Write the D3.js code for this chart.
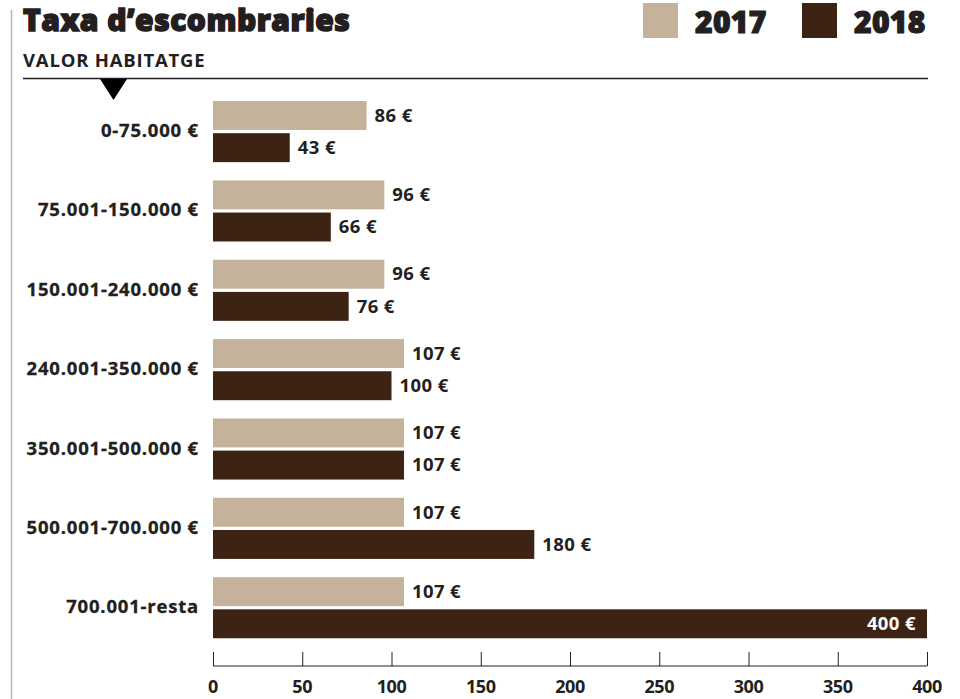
<!DOCTYPE html>
<html lang="ca">
<head>
<meta charset="utf-8">
<title>Taxa d'escombraries</title>
<script src="https://d3js.org/d3.v7.min.js"></script>
<style>
  body { margin: 0; background: #fff; }
  text { fill: #231f20; font-family: 'Open Sans', sans-serif; font-weight: 700; }
</style>
</head>
<body>
<div id="chart"></div>
<script>
// data
var categories = ["0-75.000 €", "75.001-150.000 €", "150.001-240.000 €", "240.001-350.000 €",
                  "350.001-500.000 €", "500.001-700.000 €", "700.001-resta"];
var years = ["2017", "2018"];
var values2017 = [86, 96, 96, 107, 107, 107, 107];
var values2018 = [43, 66, 76, 100, 107, 180, 400];
var xTicks = [0, 50, 100, 150, 200, 250, 300, 350, 400];

var colors = { "2017": "#c4b39a", "2018": "#3d2314" };
var width = 960, height = 699;

var rows = categories.map(function(c, i) {
  return { cat: c, "2017": values2017[i], "2018": values2018[i] };
});

var svg = d3.select("#chart").append("svg")
  .attr("width", width)
  .attr("height", height);

// left grey rule
svg.append("line")
  .attr("x1", 11.5).attr("x2", 11.5)
  .attr("y1", 10).attr("y2", height)
  .attr("stroke", "#b5b5b8").attr("stroke-width", 1.5);

// title
svg.append("text")
  .attr("x", 23).attr("y", 31)
  .style("font-weight", 800)
  .style("font-size", "30px")
  .style("stroke", "#231f20")
  .style("stroke-width", "1.5px")
  .style("letter-spacing", "0.5px")
  .text("Taxa d’escombraries");

svg.append("text")
  .attr("x", 23).attr("y", 67)
  .style("font-size", "18.5px")
  .style("letter-spacing", "0.8px")
  .text("VALOR HABITATGE");

svg.append("line")
  .attr("x1", 23).attr("x2", 928)
  .attr("y1", 78.5).attr("y2", 78.5)
  .attr("stroke", "#231f20").attr("stroke-width", 1.3);

svg.append("path")
  .attr("d", "M100,79 L127,79 L113.5,100 Z")
  .attr("fill", "#000");

// legend
var legend = svg.append("g").selectAll("g")
  .data(years).enter().append("g")
  .attr("transform", function(d, i) { return "translate(" + (643 + i * 159) + ",3)"; });
legend.append("rect")
  .attr("width", 35).attr("height", 35)
  .attr("fill", function(d) { return colors[d]; });
legend.append("text")
  .attr("x", 52).attr("y", 30)
  .style("font-weight", 800)
  .style("font-size", "30px")
  .style("stroke", "#231f20")
  .style("stroke-width", "1.2px")
  .style("letter-spacing", "0.3px")
  .text(function(d) { return d; });

// scales
var x = d3.scaleLinear().domain([0, 400]).range([213, 927]);
var y0 = d3.scaleBand().domain(categories).range([91.9, 647.4])
  .paddingInner(0.23).paddingOuter(0.115);
var y1 = d3.scaleBand().domain(years).range([0, y0.bandwidth()]).paddingInner(0.1);

var groups = svg.append("g").selectAll("g")
  .data(rows).enter().append("g")
  .attr("transform", function(d) { return "translate(0," + y0(d.cat) + ")"; });

groups.append("text")
  .attr("x", 199)
  .attr("y", y0.bandwidth() / 2)
  .attr("dy", "0.3em")
  .attr("text-anchor", "end")
  .style("font-size", "18.5px")
  .style("letter-spacing", "0.8px")
  .style("stroke", "#231f20")
  .style("stroke-width", "0.3px")
  .text(function(d) { return d.cat; });

var bars = groups.selectAll("g.bar")
  .data(function(d) { return years.map(function(k) { return { key: k, value: d[k] }; }); })
  .enter().append("g").attr("class", "bar");

bars.append("rect")
  .attr("x", x(0))
  .attr("y", function(d) { return y1(d.key); })
  .attr("width", function(d) { return x(d.value) - x(0); })
  .attr("height", y1.bandwidth())
  .attr("fill", function(d) { return colors[d.key]; });

bars.append("text")
  .attr("x", function(d) { return d.value >= 300 ? x(d.value) - 11 : x(d.value) + 8; })
  .attr("y", function(d) { return y1(d.key) + y1.bandwidth() / 2; })
  .attr("dy", "0.34em")
  .attr("text-anchor", function(d) { return d.value >= 300 ? "end" : "start"; })
  .style("font-size", "18.5px")
  .style("letter-spacing", "0.4px")
  .style("fill", function(d) { return d.value >= 300 ? "#fff" : "#231f20"; })
  .text(function(d) { return d.value + " €"; });

// x axis
var axis = svg.append("g")
  .attr("transform", "translate(0,666)")
  .call(d3.axisTop(x).tickValues(xTicks).tickSize(14).tickFormat(""));
axis.select(".domain").attr("d", "M" + x(0) + ",0H" + x(400)).attr("stroke", "#231f20");
axis.selectAll(".tick line").attr("stroke", "#231f20");

svg.append("g").selectAll("text")
  .data(xTicks).enter().append("text")
  .attr("x", function(d) { return x(d); })
  .attr("y", 693)
  .attr("text-anchor", "middle")
  .style("font-size", "18px")
  .style("letter-spacing", "-0.4px")
  .text(function(d) { return d; });
</script>
</body>
</html>
